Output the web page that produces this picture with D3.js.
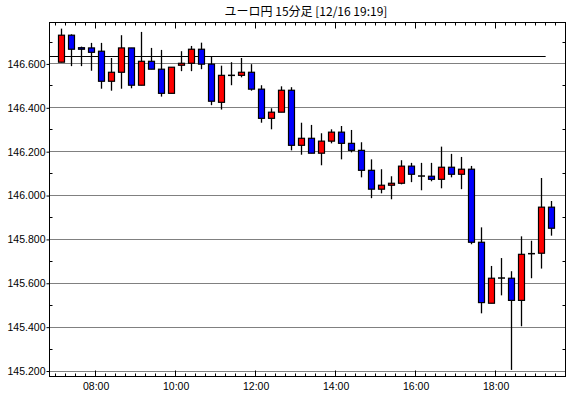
<!DOCTYPE html>
<html><head><meta charset="utf-8">
<script src="https://cdn.jsdelivr.net/npm/d3@7"></script>
<style>
body{margin:0;background:#fff;}
svg{display:block;}
</style>
</head><body>
<svg id="chart" width="570" height="398"></svg>
<script>
const title = "ユーロ円 15分足 [12/16 19:19]";
const times = ["07:00","07:15","07:30","07:45","08:00","08:15","08:30","08:45","09:00","09:15",
"09:30","09:45","10:00","10:15","10:30","10:45","11:00","11:15","11:30","11:45",
"12:00","12:15","12:30","12:45","13:00","13:15","13:30","13:45","14:00","14:15",
"14:30","14:45","15:00","15:15","15:30","15:45","16:00","16:15","16:30","16:45",
"17:00","17:15","17:30","17:45","18:00","18:15","18:30","18:45","19:00","19:15"];
const open = [146.608,146.731,146.674,146.673,146.658,146.521,146.562,146.673,146.503,146.612,
146.576,146.466,146.594,146.603,146.667,146.599,146.425,146.548,146.548,146.562,
146.485,146.352,146.380,146.480,146.229,146.261,146.193,146.248,146.289,146.238,
146.206,146.115,146.029,146.047,146.056,146.134,146.089,146.088,146.074,146.129,
146.097,146.120,145.787,145.509,145.624,145.623,145.522,145.735,145.737,145.947];
const high = [146.761,146.735,146.679,146.696,146.696,146.627,146.731,146.673,146.746,146.673,
146.664,146.585,146.658,146.682,146.697,146.635,146.592,146.608,146.627,146.599,
146.503,146.398,146.498,146.494,146.332,146.322,146.284,146.302,146.317,146.299,
146.243,146.165,146.120,146.088,146.161,146.149,146.149,146.149,146.223,146.190,
146.176,146.135,145.855,145.679,145.715,145.655,145.814,145.794,146.080,145.975];
const low = [146.607,146.590,146.590,146.569,146.487,146.478,146.487,146.489,146.503,146.576,
146.451,146.466,146.567,146.567,146.576,146.412,146.392,146.503,146.539,146.478,
146.332,146.302,146.380,146.206,146.186,146.193,146.138,146.238,146.165,146.197,
146.083,145.988,146.010,145.983,146.051,146.061,146.024,146.065,146.033,146.083,
146.029,145.778,145.463,145.509,145.545,145.205,145.404,145.623,145.667,145.817];
const close = [146.731,146.667,146.667,146.653,146.521,146.562,146.673,146.503,146.612,146.576,
146.466,146.585,146.603,146.667,146.599,146.430,146.548,146.548,146.562,146.485,
146.352,146.380,146.480,146.229,146.261,146.193,146.248,146.289,146.238,146.206,
146.115,146.029,146.047,146.056,146.134,146.097,146.089,146.074,146.129,146.097,
146.120,145.787,145.512,145.623,145.624,145.522,145.732,145.735,145.947,145.851];
const refLevel = 146.636;
const refEnd = "19:15";
const yTicks = [145.2,145.4,145.6,145.8,146.0,146.2,146.4,146.6];
const xTickLabels = ["08:00","10:00","12:00","14:00","16:00","18:00"];

const toMin = s => { const [h,m] = s.split(":").map(Number); return h*60+m; };

const L = 49.5, R = 565.5, T = 22.5, B = 376.5;
const svg = d3.select("#chart");
const x = d3.scaleLinear().domain([410, 1184]).range([49, 565]);
const y = d3.scaleLinear().domain([145.175, 146.788]).range([376.5, 22.7]);

const crisp = v => Math.round(v - 0.5) + 0.5;

// title
svg.append("text").attr("x", 306).attr("y", 16).attr("text-anchor", "middle")
  .attr("font-family", "'Noto Sans CJK JP', sans-serif").attr("font-size", 12).attr("fill", "#000")
  .text(title);

// grid
const g = svg.append("g");
yTicks.forEach(v => {
  g.append("line").attr("x1", L).attr("x2", R).attr("y1", crisp(y(v))).attr("y2", crisp(y(v)))
    .attr("stroke", "#000").attr("stroke-width", 1).attr("stroke-dasharray", "1,1");
});
// minor y ticks inside both borders
d3.range(145.3, 146.75, 0.2).forEach(v => {
  const yy = crisp(y(v));
  g.append("line").attr("x1", L).attr("x2", L + 3).attr("y1", yy).attr("y2", yy).attr("stroke", "#000");
  g.append("line").attr("x1", R - 3).attr("x2", R).attr("y1", yy).attr("y2", yy).attr("stroke", "#000");
});
// x ticks every 15 min on top & bottom
for (let t = 420; t <= 1180; t += 15) {
  const xx = crisp(x(t));
  const len = (t % 120 === 0) ? 6 : 3;
  g.append("line").attr("x1", xx).attr("x2", xx).attr("y1", T).attr("y2", T + len).attr("stroke", "#000");
  g.append("line").attr("x1", xx).attr("x2", xx).attr("y1", B).attr("y2", B - len).attr("stroke", "#000");
}

// reference line
svg.append("line").attr("x1", L).attr("x2", x(toMin(refEnd)))
  .attr("y1", crisp(y(refLevel))).attr("y2", crisp(y(refLevel)))
  .attr("stroke", "#000").attr("stroke-width", 1);

// candles
const data = times.map((t, i) => ({t: toMin(t), o: open[i], h: high[i], l: low[i], c: close[i]}));
const cg = svg.append("g");
data.forEach(d => {
  const cx = Math.round(x(d.t + 7.5)) + 0.5;
  cg.append("line").attr("x1", cx).attr("x2", cx).attr("y1", y(d.h)).attr("y2", y(d.l))
    .attr("stroke", "#000").attr("stroke-width", 1.3);
  if (d.o === d.c) {
    cg.append("line").attr("x1", cx - 3.5).attr("x2", cx + 3.5).attr("y1", y(d.o)).attr("y2", y(d.o))
      .attr("stroke", "#000").attr("stroke-width", 1.5);
  } else {
    const top = y(Math.max(d.o, d.c)), bot = y(Math.min(d.o, d.c));
    cg.append("rect").attr("x", cx - 3).attr("y", top).attr("width", 6).attr("height", Math.max(bot - top, 1))
      .attr("fill", d.c > d.o ? "#ff0000" : "#0000ff").attr("stroke", "#000").attr("stroke-width", 1.2);
  }
});

// frame
svg.append("rect").attr("x", L).attr("y", T).attr("width", R - L).attr("height", B - T)
  .attr("fill", "none").attr("stroke", "#000").attr("stroke-width", 1);

// axes (labels)
const yAxis = d3.axisLeft(y).tickValues(yTicks).tickFormat(d3.format(".3f")).tickSize(3).tickPadding(1);
const ya = svg.append("g").attr("transform", `translate(${L},0)`).call(yAxis);
ya.select(".domain").remove();
ya.selectAll("text").attr("font-family", "'Liberation Sans', Arial, sans-serif").attr("font-size", 10.5).attr("fill", "#000");
ya.selectAll("line").attr("stroke", "#000");

const xAxis = d3.axisBottom(x).tickValues(xTickLabels.map(toMin))
  .tickFormat((d, i) => xTickLabels[i]).tickSize(0).tickPadding(6);
const xa = svg.append("g").attr("transform", `translate(0,${B})`).call(xAxis);
xa.select(".domain").remove();
xa.selectAll("text").attr("font-family", "'Liberation Sans', Arial, sans-serif").attr("font-size", 10.5).attr("fill", "#000");
</script>
</body></html>
